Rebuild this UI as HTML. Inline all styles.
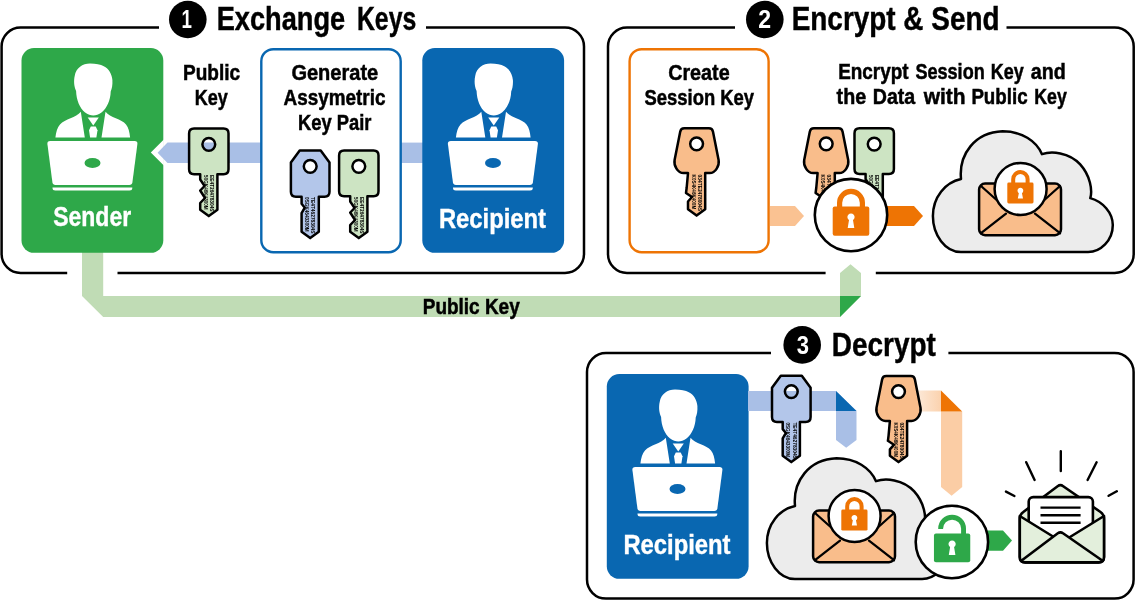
<!DOCTYPE html>
<html lang="en"><head><meta charset="utf-8"><title>Hybrid encryption</title>
<style>html,body{margin:0;padding:0;background:#fff}svg{display:block;will-change:transform}</style></head>
<body>
<svg width="1135" height="600" viewBox="0 0 1135 600" font-family="'Liberation Sans', sans-serif" font-weight="bold">
<rect width="1135" height="600" fill="#fff"/>
<path d="M82 250 L103.2 250 L103.2 295.9 L840 295.9 L840 273 L850.5 264.3 L861 273 L861 295.9 L840 317.1 L103.2 317.1 L82 295.9 Z" fill="#c0dcb5"/>
<path d="M840 295.9 L861 295.9 L840 317.1 Z" fill="#2ea849"/>
<path d="M159 27.5 L20.6 27.5 A19 19 0 0 0 1.6 46.5 L1.6 253.9 A19 19 0 0 0 20.6 272.9 L67.2 272.9 M117.5 272.9 L565 272.9 A19 19 0 0 0 584 253.9 L584 46.5 A19 19 0 0 0 565 27.5 L426 27.5" fill="none" stroke="#000" stroke-width="2.5"/>
<path d="M735 27.5 L627 27.5 A19 19 0 0 0 608 46.5 L608 254 A19 19 0 0 0 627 273 L825.6 273 M875.8 273 L1114.7 273 A19 19 0 0 0 1133.7 254 L1133.7 46.5 A19 19 0 0 0 1114.7 27.5 L1006.5 27.5" fill="none" stroke="#000" stroke-width="2.5"/>
<path d="M771 353.1 L606 353.1 A19 19 0 0 0 587 372.1 L587 579.6 A19 19 0 0 0 606 598.6 L1114.6 598.6 A19 19 0 0 0 1133.6 579.6 L1133.6 372.1 A19 19 0 0 0 1114.6 353.1 L948.4 353.1" fill="none" stroke="#000" stroke-width="2.5"/>
<circle cx="187.8" cy="19.5" r="18.8" fill="#000"/>
<text x="181.38" y="28.20" font-size="25.6" textLength="10.41" lengthAdjust="spacingAndGlyphs" fill="#fff" >1</text>
<text y="30.10" font-size="33.5" fill="#000" stroke="#000" stroke-width="0.45"><tspan x="216.73" textLength="128.41" lengthAdjust="spacingAndGlyphs">Exchange</tspan> <tspan x="356.99" textLength="59.21" lengthAdjust="spacingAndGlyphs">Keys</tspan></text>
<circle cx="764.8" cy="19.5" r="18.8" fill="#000"/>
<text x="758.31" y="28.20" font-size="25.6" textLength="12.83" lengthAdjust="spacingAndGlyphs" fill="#fff" >2</text>
<text x="791.69" y="30.10" font-size="33.5" textLength="207.85" lengthAdjust="spacingAndGlyphs" fill="#000" stroke="#000" stroke-width="0.45">Encrypt &amp; Send</text>
<circle cx="802.2" cy="344.9" r="18.8" fill="#000"/>
<text x="796.86" y="353.60" font-size="25.6" textLength="12.24" lengthAdjust="spacingAndGlyphs" fill="#fff" >3</text>
<text x="831.78" y="355.70" font-size="33.5" textLength="104.04" lengthAdjust="spacingAndGlyphs" fill="#000" stroke="#000" stroke-width="0.45">Decrypt</text>
<rect x="21.5" y="48" width="141.8" height="204.8" rx="12.5" fill="#2ea849"/>
<g transform="translate(-400.5,0)">
<path fill="#fff" d="M476.6 91 C474.2 86 474.3 80 475.2 76 C476.6 68 483 63.6 490.5 63.6 C496.5 63.6 501 64.6 504.3 66.3 C509.3 68.8 512.4 74 512.9 80 C513.2 85 512.4 89 511.2 91.5 C511 100 507.5 108 502.3 112.2 C499.3 114.6 496.3 115.4 493.8 115.4 C491.3 115.4 488.3 114.6 485.3 112.2 C480.3 108 476.8 100 476.6 91 Z"/>
<path fill="#fff" d="M481.3 111.8 L485.3 137.6 L455.9 137.6 C456.6 132 457.8 127.6 460.5 124.6 C463 121.8 467 120 471 118.3 C475 116.6 479 114.6 481.3 111.8 Z"/>
<path fill="#fff" d="M506 111.8 L502 137.6 L530.6 137.6 C530 132 529 127.6 526.5 124.6 C524.3 121.8 520.3 120 516.3 118.3 C512.3 116.6 508.3 114.6 506 111.8 Z"/>
<path fill="#fff" d="M488.2 117.6 L499.3 117.6 L493.75 125.6 Z"/>
<path fill="#fff" d="M491.3 126.6 L496.2 126.6 L498 130.3 L496.9 137.6 L490.6 137.6 L489.5 130.3 Z"/>
<path fill="#fff" d="M450.8 140.9 L535 140.9 Q538.3 140.9 537.9 144.1 L532.9 182.2 Q532.5 184.9 529.8 184.9 L456 184.9 Q453.3 184.9 452.9 182.2 L447.9 144.1 Q447.5 140.9 450.8 140.9 Z"/>
<path fill="#fff" d="M453 187.4 L532.8 187.4 L532.8 188 Q532.8 190.5 530 190.5 L455.8 190.5 Q453 190.5 453 188 Z"/>
<ellipse cx="493" cy="163" rx="8" ry="5" fill="#2ea849"/>
</g>
<text x="53.23" y="226.30" font-size="28" textLength="77.90" lengthAdjust="spacingAndGlyphs" fill="#fff" stroke="#fff" stroke-width="0.4">Sender</text>
<path d="M163.8 139.5 L150.8 152.5 L163.8 165.5 Z" fill="#fff"/>
<path d="M261 142.6 L167.5 142.6 L157.6 152.8 L167.5 163 L261 163 Z" fill="#a9bfe6"/>
<rect x="401" y="142.6" width="22" height="20.4" fill="#a9bfe6"/>
<rect x="261.3" y="49.2" width="139.4" height="203" rx="12" fill="#fff" stroke="#0967b1" stroke-width="2.4"/>
<rect x="422.3" y="48" width="141.8" height="204.8" rx="12.5" fill="#0967b1"/>
<g transform="translate(0,0)">
<path fill="#fff" d="M476.6 91 C474.2 86 474.3 80 475.2 76 C476.6 68 483 63.6 490.5 63.6 C496.5 63.6 501 64.6 504.3 66.3 C509.3 68.8 512.4 74 512.9 80 C513.2 85 512.4 89 511.2 91.5 C511 100 507.5 108 502.3 112.2 C499.3 114.6 496.3 115.4 493.8 115.4 C491.3 115.4 488.3 114.6 485.3 112.2 C480.3 108 476.8 100 476.6 91 Z"/>
<path fill="#fff" d="M481.3 111.8 L485.3 137.6 L455.9 137.6 C456.6 132 457.8 127.6 460.5 124.6 C463 121.8 467 120 471 118.3 C475 116.6 479 114.6 481.3 111.8 Z"/>
<path fill="#fff" d="M506 111.8 L502 137.6 L530.6 137.6 C530 132 529 127.6 526.5 124.6 C524.3 121.8 520.3 120 516.3 118.3 C512.3 116.6 508.3 114.6 506 111.8 Z"/>
<path fill="#fff" d="M488.2 117.6 L499.3 117.6 L493.75 125.6 Z"/>
<path fill="#fff" d="M491.3 126.6 L496.2 126.6 L498 130.3 L496.9 137.6 L490.6 137.6 L489.5 130.3 Z"/>
<path fill="#fff" d="M450.8 140.9 L535 140.9 Q538.3 140.9 537.9 144.1 L532.9 182.2 Q532.5 184.9 529.8 184.9 L456 184.9 Q453.3 184.9 452.9 182.2 L447.9 144.1 Q447.5 140.9 450.8 140.9 Z"/>
<path fill="#fff" d="M453 187.4 L532.8 187.4 L532.8 188 Q532.8 190.5 530 190.5 L455.8 190.5 Q453 190.5 453 188 Z"/>
<ellipse cx="493" cy="163" rx="8" ry="5" fill="#0967b1"/>
</g>
<text x="438.95" y="228.00" font-size="28" textLength="107.04" lengthAdjust="spacingAndGlyphs" fill="#fff" stroke="#fff" stroke-width="0.4">Recipient</text>
<text x="182.96" y="79.50" font-size="22" textLength="57.14" lengthAdjust="spacingAndGlyphs" fill="#000" stroke="#000" stroke-width="0.5">Public</text>
<text x="194.83" y="104.50" font-size="22" textLength="32.99" lengthAdjust="spacingAndGlyphs" fill="#000" stroke="#000" stroke-width="0.5">Key</text>
<g>
<clipPath id="k1"><path d="M194.1 128.5 L223.5 128.5 Q228.5 128.5 228.5 133.5 L228.5 169.2 Q228.5 174.2 223.5 174.2 L217.4 174.2 L217.4 209.8 L208.8 216.1 L200.2 209.8 L200.2 203.0 L205.0 198.0 L200.2 190.5 L204.6 186.0 L200.2 179.5 L200.2 174.2 L194.1 174.2 Q189.1 174.2 189.1 169.2 L189.1 133.5 Q189.1 128.5 194.1 128.5 Z M202.4 144.3 a6.4 6.4 0 1 0 12.8 0 a6.4 6.4 0 1 0 -12.8 0 Z" clip-rule="evenodd"/></clipPath>
<path d="M194.1 128.5 L223.5 128.5 Q228.5 128.5 228.5 133.5 L228.5 169.2 Q228.5 174.2 223.5 174.2 L217.4 174.2 L217.4 209.8 L208.8 216.1 L200.2 209.8 L200.2 203.0 L205.0 198.0 L200.2 190.5 L204.6 186.0 L200.2 179.5 L200.2 174.2 L194.1 174.2 Q189.1 174.2 189.1 169.2 L189.1 133.5 Q189.1 128.5 194.1 128.5 Z M202.4 144.3 a6.4 6.4 0 1 0 12.8 0 a6.4 6.4 0 1 0 -12.8 0 Z" fill="#cde4c3" fill-rule="evenodd"/>
<g clip-path="url(#k1)">
<text transform="translate(210.00,175.10) rotate(90)" font-size="5.6" textLength="36.4" lengthAdjust="spacingAndGlyphs" fill="#000">EE4T26478304S</text>
<text transform="translate(203.80,175.10) rotate(90)" font-size="5.6" textLength="34.6" lengthAdjust="spacingAndGlyphs" fill="#000">50GK46K4300M</text>
</g>
<path d="M194.1 128.5 L223.5 128.5 Q228.5 128.5 228.5 133.5 L228.5 169.2 Q228.5 174.2 223.5 174.2 L217.4 174.2 L217.4 209.8 L208.8 216.1 L200.2 209.8 L200.2 203.0 L205.0 198.0 L200.2 190.5 L204.6 186.0 L200.2 179.5 L200.2 174.2 L194.1 174.2 Q189.1 174.2 189.1 169.2 L189.1 133.5 Q189.1 128.5 194.1 128.5 Z M202.4 144.3 a6.4 6.4 0 1 0 12.8 0 a6.4 6.4 0 1 0 -12.8 0 Z" fill="none" stroke="#000" stroke-width="2.5" stroke-linejoin="round"/>
</g>
<text x="291.40" y="79.50" font-size="22" textLength="86.82" lengthAdjust="spacingAndGlyphs" fill="#000" stroke="#000" stroke-width="0.5">Generate</text>
<text x="283.62" y="104.50" font-size="22" textLength="101.87" lengthAdjust="spacingAndGlyphs" fill="#000" stroke="#000" stroke-width="0.5">Assymetric</text>
<text x="298.11" y="129.50" font-size="22" textLength="73.35" lengthAdjust="spacingAndGlyphs" fill="#000" stroke="#000" stroke-width="0.5">Key Pair</text>
<g>
<clipPath id="k2"><path d="M299.7 150.5 L320.7 150.5 L329.5 162.5 L329.5 191.8 Q329.5 196.8 324.5 196.8 L318.8 196.8 L318.8 231.8 L310.2 238.1 L301.6 231.8 L301.6 213.1 L304.8 207.7 L301.6 203.8 L301.6 196.8 L295.9 196.8 Q290.9 196.8 290.9 191.8 L290.9 162.5 Z M303.8 166.3 a6.4 6.4 0 1 0 12.8 0 a6.4 6.4 0 1 0 -12.8 0 Z" clip-rule="evenodd"/></clipPath>
<path d="M299.7 150.5 L320.7 150.5 L329.5 162.5 L329.5 191.8 Q329.5 196.8 324.5 196.8 L318.8 196.8 L318.8 231.8 L310.2 238.1 L301.6 231.8 L301.6 213.1 L304.8 207.7 L301.6 203.8 L301.6 196.8 L295.9 196.8 Q290.9 196.8 290.9 191.8 L290.9 162.5 Z M303.8 166.3 a6.4 6.4 0 1 0 12.8 0 a6.4 6.4 0 1 0 -12.8 0 Z" fill="#b3c6ea" fill-rule="evenodd"/>
<g clip-path="url(#k2)">
<text transform="translate(311.40,197.10) rotate(90)" font-size="5.6" textLength="36.4" lengthAdjust="spacingAndGlyphs" fill="#000">TE4T46278304S</text>
<text transform="translate(305.20,197.10) rotate(90)" font-size="5.6" textLength="34.6" lengthAdjust="spacingAndGlyphs" fill="#000">0SGK4643300M</text>
</g>
<path d="M299.7 150.5 L320.7 150.5 L329.5 162.5 L329.5 191.8 Q329.5 196.8 324.5 196.8 L318.8 196.8 L318.8 231.8 L310.2 238.1 L301.6 231.8 L301.6 213.1 L304.8 207.7 L301.6 203.8 L301.6 196.8 L295.9 196.8 Q290.9 196.8 290.9 191.8 L290.9 162.5 Z M303.8 166.3 a6.4 6.4 0 1 0 12.8 0 a6.4 6.4 0 1 0 -12.8 0 Z" fill="none" stroke="#000" stroke-width="2.5" stroke-linejoin="round"/>
</g>
<g>
<clipPath id="k3"><path d="M344.1 150.5 L373.5 150.5 Q378.5 150.5 378.5 155.5 L378.5 191.2 Q378.5 196.2 373.5 196.2 L367.4 196.2 L367.4 231.8 L358.8 238.1 L350.2 231.8 L350.2 225.0 L355.0 220.0 L350.2 212.5 L354.6 208.0 L350.2 201.5 L350.2 196.2 L344.1 196.2 Q339.1 196.2 339.1 191.2 L339.1 155.5 Q339.1 150.5 344.1 150.5 Z M352.4 166.3 a6.4 6.4 0 1 0 12.8 0 a6.4 6.4 0 1 0 -12.8 0 Z" clip-rule="evenodd"/></clipPath>
<path d="M344.1 150.5 L373.5 150.5 Q378.5 150.5 378.5 155.5 L378.5 191.2 Q378.5 196.2 373.5 196.2 L367.4 196.2 L367.4 231.8 L358.8 238.1 L350.2 231.8 L350.2 225.0 L355.0 220.0 L350.2 212.5 L354.6 208.0 L350.2 201.5 L350.2 196.2 L344.1 196.2 Q339.1 196.2 339.1 191.2 L339.1 155.5 Q339.1 150.5 344.1 150.5 Z M352.4 166.3 a6.4 6.4 0 1 0 12.8 0 a6.4 6.4 0 1 0 -12.8 0 Z" fill="#cde4c3" fill-rule="evenodd"/>
<g clip-path="url(#k3)">
<text transform="translate(360.00,197.10) rotate(90)" font-size="5.6" textLength="36.4" lengthAdjust="spacingAndGlyphs" fill="#000">EE4T26478304S</text>
<text transform="translate(353.80,197.10) rotate(90)" font-size="5.6" textLength="34.6" lengthAdjust="spacingAndGlyphs" fill="#000">50GK46K4300M</text>
</g>
<path d="M344.1 150.5 L373.5 150.5 Q378.5 150.5 378.5 155.5 L378.5 191.2 Q378.5 196.2 373.5 196.2 L367.4 196.2 L367.4 231.8 L358.8 238.1 L350.2 231.8 L350.2 225.0 L355.0 220.0 L350.2 212.5 L354.6 208.0 L350.2 201.5 L350.2 196.2 L344.1 196.2 Q339.1 196.2 339.1 191.2 L339.1 155.5 Q339.1 150.5 344.1 150.5 Z M352.4 166.3 a6.4 6.4 0 1 0 12.8 0 a6.4 6.4 0 1 0 -12.8 0 Z" fill="none" stroke="#000" stroke-width="2.5" stroke-linejoin="round"/>
</g>
<rect x="629.6" y="49.2" width="139" height="203" rx="12" fill="#fff" stroke="#ee7404" stroke-width="2.4"/>
<text x="668.21" y="79.50" font-size="22" textLength="61.40" lengthAdjust="spacingAndGlyphs" fill="#000" stroke="#000" stroke-width="0.5">Create</text>
<text x="644.54" y="104.50" font-size="22" textLength="109.48" lengthAdjust="spacingAndGlyphs" fill="#000" stroke="#000" stroke-width="0.5">Session Key</text>
<g>
<clipPath id="k4"><path d="M684.3 128.25 L708.9 128.25 Q712.3 128.25 713.0 131.65 L718.6 160 C719.6 165.5 715.6 173.1 709.6 173.1 L705.2 173.1 L705.2 209.3 L696.6 215.6 L688.0 209.3 L688.0 201.5 L692.0 197 L686.0 193 L686.7 187.5 L688.0 173.1 L683.6 173.1 C677.6 173.1 673.6 165.5 674.6 160 L680.2 131.65 Q680.9 128.25 684.3 128.25 Z M690.2 143.8 a6.4 6.4 0 1 0 12.8 0 a6.4 6.4 0 1 0 -12.8 0 Z" clip-rule="evenodd"/></clipPath>
<path d="M684.3 128.25 L708.9 128.25 Q712.3 128.25 713.0 131.65 L718.6 160 C719.6 165.5 715.6 173.1 709.6 173.1 L705.2 173.1 L705.2 209.3 L696.6 215.6 L688.0 209.3 L688.0 201.5 L692.0 197 L686.0 193 L686.7 187.5 L688.0 173.1 L683.6 173.1 C677.6 173.1 673.6 165.5 674.6 160 L680.2 131.65 Q680.9 128.25 684.3 128.25 Z M690.2 143.8 a6.4 6.4 0 1 0 12.8 0 a6.4 6.4 0 1 0 -12.8 0 Z" fill="#f9bd8b" fill-rule="evenodd"/>
<g clip-path="url(#k4)">
<text transform="translate(697.80,174.60) rotate(90)" font-size="5.6" textLength="36.4" lengthAdjust="spacingAndGlyphs" fill="#000">034TE2478004S</text>
<text transform="translate(691.60,174.60) rotate(90)" font-size="5.6" textLength="34.6" lengthAdjust="spacingAndGlyphs" fill="#000">K0S4K46K400M</text>
</g>
<path d="M684.3 128.25 L708.9 128.25 Q712.3 128.25 713.0 131.65 L718.6 160 C719.6 165.5 715.6 173.1 709.6 173.1 L705.2 173.1 L705.2 209.3 L696.6 215.6 L688.0 209.3 L688.0 201.5 L692.0 197 L686.0 193 L686.7 187.5 L688.0 173.1 L683.6 173.1 C677.6 173.1 673.6 165.5 674.6 160 L680.2 131.65 Q680.9 128.25 684.3 128.25 Z M690.2 143.8 a6.4 6.4 0 1 0 12.8 0 a6.4 6.4 0 1 0 -12.8 0 Z" fill="none" stroke="#000" stroke-width="2.5" stroke-linejoin="round"/>
</g>
<path d="M770 206 L795 206 L804 216 L795 226 L770 226 Z" fill="#fac292"/>
<text y="79.00" font-size="22" fill="#000" stroke="#000" stroke-width="0.5"><tspan x="838.17" textLength="70.38" lengthAdjust="spacingAndGlyphs">Encrypt</tspan> <tspan x="915.45" textLength="69.25" lengthAdjust="spacingAndGlyphs">Session</tspan> <tspan x="990.73" textLength="32.89" lengthAdjust="spacingAndGlyphs">Key</tspan> <tspan x="1030.81" textLength="34.99" lengthAdjust="spacingAndGlyphs">and</tspan></text>
<text y="103.80" font-size="22" fill="#000" stroke="#000" stroke-width="0.5"><tspan x="836.60" textLength="29.51" lengthAdjust="spacingAndGlyphs">the</tspan> <tspan x="872.73" textLength="42.50" lengthAdjust="spacingAndGlyphs">Data</tspan> <tspan x="923.70" textLength="41.87" lengthAdjust="spacingAndGlyphs">with</tspan> <tspan x="971.38" textLength="56.21" lengthAdjust="spacingAndGlyphs">Public</tspan> <tspan x="1034.25" textLength="32.47" lengthAdjust="spacingAndGlyphs">Key</tspan></text>
<g>
<clipPath id="k5"><path d="M813.9 128.25 L838.5 128.25 Q841.9 128.25 842.6 131.65 L848.2 160 C849.2 165.5 845.2 173.1 839.2 173.1 L834.8 173.1 L834.8 209.3 L826.2 215.6 L817.6 209.3 L817.6 201.5 L821.6 197 L815.6 193 L816.3 187.5 L817.6 173.1 L813.2 173.1 C807.2 173.1 803.2 165.5 804.2 160 L809.8 131.65 Q810.5 128.25 813.9 128.25 Z M819.8 143.8 a6.4 6.4 0 1 0 12.8 0 a6.4 6.4 0 1 0 -12.8 0 Z" clip-rule="evenodd"/></clipPath>
<path d="M813.9 128.25 L838.5 128.25 Q841.9 128.25 842.6 131.65 L848.2 160 C849.2 165.5 845.2 173.1 839.2 173.1 L834.8 173.1 L834.8 209.3 L826.2 215.6 L817.6 209.3 L817.6 201.5 L821.6 197 L815.6 193 L816.3 187.5 L817.6 173.1 L813.2 173.1 C807.2 173.1 803.2 165.5 804.2 160 L809.8 131.65 Q810.5 128.25 813.9 128.25 Z M819.8 143.8 a6.4 6.4 0 1 0 12.8 0 a6.4 6.4 0 1 0 -12.8 0 Z" fill="#f9bd8b" fill-rule="evenodd"/>
<g clip-path="url(#k5)">
<text transform="translate(827.40,174.60) rotate(90)" font-size="5.6" textLength="36.4" lengthAdjust="spacingAndGlyphs" fill="#000">034TE2478004S</text>
<text transform="translate(821.20,174.60) rotate(90)" font-size="5.6" textLength="34.6" lengthAdjust="spacingAndGlyphs" fill="#000">K0S4K46K400M</text>
</g>
<path d="M813.9 128.25 L838.5 128.25 Q841.9 128.25 842.6 131.65 L848.2 160 C849.2 165.5 845.2 173.1 839.2 173.1 L834.8 173.1 L834.8 209.3 L826.2 215.6 L817.6 209.3 L817.6 201.5 L821.6 197 L815.6 193 L816.3 187.5 L817.6 173.1 L813.2 173.1 C807.2 173.1 803.2 165.5 804.2 160 L809.8 131.65 Q810.5 128.25 813.9 128.25 Z M819.8 143.8 a6.4 6.4 0 1 0 12.8 0 a6.4 6.4 0 1 0 -12.8 0 Z" fill="none" stroke="#000" stroke-width="2.5" stroke-linejoin="round"/>
</g>
<g>
<clipPath id="k6"><path d="M859.5 128.3 L888.9 128.3 Q893.9 128.3 893.9 133.3 L893.9 169.0 Q893.9 174.0 888.9 174.0 L882.8 174.0 L882.8 209.6 L874.2 215.9 L865.6 209.6 L865.6 202.8 L870.4 197.8 L865.6 190.3 L870.0 185.8 L865.6 179.3 L865.6 174.0 L859.5 174.0 Q854.5 174.0 854.5 169.0 L854.5 133.3 Q854.5 128.3 859.5 128.3 Z M867.8 144.1 a6.4 6.4 0 1 0 12.8 0 a6.4 6.4 0 1 0 -12.8 0 Z" clip-rule="evenodd"/></clipPath>
<path d="M859.5 128.3 L888.9 128.3 Q893.9 128.3 893.9 133.3 L893.9 169.0 Q893.9 174.0 888.9 174.0 L882.8 174.0 L882.8 209.6 L874.2 215.9 L865.6 209.6 L865.6 202.8 L870.4 197.8 L865.6 190.3 L870.0 185.8 L865.6 179.3 L865.6 174.0 L859.5 174.0 Q854.5 174.0 854.5 169.0 L854.5 133.3 Q854.5 128.3 859.5 128.3 Z M867.8 144.1 a6.4 6.4 0 1 0 12.8 0 a6.4 6.4 0 1 0 -12.8 0 Z" fill="#cde4c3" fill-rule="evenodd"/>
<g clip-path="url(#k6)">
<text transform="translate(875.40,174.90) rotate(90)" font-size="5.6" textLength="36.4" lengthAdjust="spacingAndGlyphs" fill="#000">EE4T26478304S</text>
<text transform="translate(869.20,174.90) rotate(90)" font-size="5.6" textLength="34.6" lengthAdjust="spacingAndGlyphs" fill="#000">50GK46K4300M</text>
</g>
<path d="M859.5 128.3 L888.9 128.3 Q893.9 128.3 893.9 133.3 L893.9 169.0 Q893.9 174.0 888.9 174.0 L882.8 174.0 L882.8 209.6 L874.2 215.9 L865.6 209.6 L865.6 202.8 L870.4 197.8 L865.6 190.3 L870.0 185.8 L865.6 179.3 L865.6 174.0 L859.5 174.0 Q854.5 174.0 854.5 169.0 L854.5 133.3 Q854.5 128.3 859.5 128.3 Z M867.8 144.1 a6.4 6.4 0 1 0 12.8 0 a6.4 6.4 0 1 0 -12.8 0 Z" fill="none" stroke="#000" stroke-width="2.5" stroke-linejoin="round"/>
</g>
<path d="M880 206 L914 206 L923 216 L914 226 L880 226 Z" fill="#ee7404"/>
<circle cx="851" cy="215.1" r="36.2" fill="#fff" stroke="#000" stroke-width="2.6"/>
<rect x="832.70" y="206.50" width="36.60" height="29.20" rx="2.01" fill="#ee7404"/>
<path d="M839.60 207.50 L839.60 202.80 A11.40 11.40 0 0 1 862.40 202.80 L862.40 207.50" fill="none" stroke="#ee7404" stroke-width="5.2"/>
<path d="M849.02 220.01 A3.60 3.60 0 1 1 852.98 220.01 L854.30 227.90 L847.70 227.90 Z" fill="#fff"/>
<g transform="translate(0,0)">
<path d="M961 252.1 C945.2 252.1 932.9 235.2 932.9 216.1 C932.9 197 945.2 182.4 961 179 C958.7 154.6 974.5 132.3 1002.6 131.3 C1021.7 131.3 1036.3 141 1042 154.2 C1051 150.9 1069 152 1080.2 164.4 C1090.3 175.6 1092.6 190.2 1090.3 198.1 C1102.7 201.5 1112.8 212.7 1112.8 225.1 C1112.8 240.8 1100.4 252.1 1088.1 252.1 Z" fill="#ececec" stroke="#000" stroke-width="2.5" stroke-linejoin="round"/>
<rect x="979.1" y="183.6" width="81.9" height="51.6" rx="6" fill="#f9bd8b" stroke="#000" stroke-width="2.5"/>
<path d="M981 186 L1000 203 M1060 186 L1041 203 M981 233.2 L1006 213.6 M1060 233.2 L1035 213.6" fill="none" stroke="#000" stroke-width="2.3" stroke-linecap="round"/>
<circle cx="1020.6" cy="189" r="26" fill="#fff" stroke="#000" stroke-width="2.5"/>
</g>
<rect x="1007.30" y="182.50" width="26.20" height="21.00" rx="1.44" fill="#ee7404"/>
<path d="M1013.20 183.50 L1013.20 179.20 A7.20 7.20 0 0 1 1027.60 179.20 L1027.60 183.50" fill="none" stroke="#ee7404" stroke-width="4"/>
<path d="M1018.84 193.14 A2.90 2.90 0 1 1 1021.96 193.14 L1023.00 198.40 L1017.80 198.40 Z" fill="#fff"/>
<rect x="606.8" y="374" width="141.8" height="204.8" rx="12.5" fill="#0967b1"/>
<g transform="translate(184.5,326)">
<path fill="#fff" d="M476.6 91 C474.2 86 474.3 80 475.2 76 C476.6 68 483 63.6 490.5 63.6 C496.5 63.6 501 64.6 504.3 66.3 C509.3 68.8 512.4 74 512.9 80 C513.2 85 512.4 89 511.2 91.5 C511 100 507.5 108 502.3 112.2 C499.3 114.6 496.3 115.4 493.8 115.4 C491.3 115.4 488.3 114.6 485.3 112.2 C480.3 108 476.8 100 476.6 91 Z"/>
<path fill="#fff" d="M481.3 111.8 L485.3 137.6 L455.9 137.6 C456.6 132 457.8 127.6 460.5 124.6 C463 121.8 467 120 471 118.3 C475 116.6 479 114.6 481.3 111.8 Z"/>
<path fill="#fff" d="M506 111.8 L502 137.6 L530.6 137.6 C530 132 529 127.6 526.5 124.6 C524.3 121.8 520.3 120 516.3 118.3 C512.3 116.6 508.3 114.6 506 111.8 Z"/>
<path fill="#fff" d="M488.2 117.6 L499.3 117.6 L493.75 125.6 Z"/>
<path fill="#fff" d="M491.3 126.6 L496.2 126.6 L498 130.3 L496.9 137.6 L490.6 137.6 L489.5 130.3 Z"/>
<path fill="#fff" d="M450.8 140.9 L535 140.9 Q538.3 140.9 537.9 144.1 L532.9 182.2 Q532.5 184.9 529.8 184.9 L456 184.9 Q453.3 184.9 452.9 182.2 L447.9 144.1 Q447.5 140.9 450.8 140.9 Z"/>
<path fill="#fff" d="M453 187.4 L532.8 187.4 L532.8 188 Q532.8 190.5 530 190.5 L455.8 190.5 Q453 190.5 453 188 Z"/>
<ellipse cx="493" cy="163" rx="8" ry="5" fill="#0967b1"/>
</g>
<text x="623.45" y="554.00" font-size="28" textLength="107.04" lengthAdjust="spacingAndGlyphs" fill="#fff" stroke="#fff" stroke-width="0.4">Recipient</text>
<path d="M748 391 L836 391 L856.5 411 L856.5 440 L846.2 447.8 L836 440 L836 411 L748 411 Z" fill="#a9bfe6"/>
<path d="M836 391 L856.5 411 L836 411 Z" fill="#0967b1"/>
<g>
<clipPath id="k7"><path d="M780.8 375.8 L801.8 375.8 L810.6 387.8 L810.6 417.1 Q810.6 422.1 805.6 422.1 L799.9 422.1 L799.9 455.8 L791.3 462.1 L782.7 455.8 L782.7 438.4 L785.9 433.0 L782.7 429.1 L782.7 422.1 L777.0 422.1 Q772.0 422.1 772.0 417.1 L772.0 387.8 Z M784.9 391.6 a6.4 6.4 0 1 0 12.8 0 a6.4 6.4 0 1 0 -12.8 0 Z" clip-rule="evenodd"/></clipPath>
<path d="M780.8 375.8 L801.8 375.8 L810.6 387.8 L810.6 417.1 Q810.6 422.1 805.6 422.1 L799.9 422.1 L799.9 455.8 L791.3 462.1 L782.7 455.8 L782.7 438.4 L785.9 433.0 L782.7 429.1 L782.7 422.1 L777.0 422.1 Q772.0 422.1 772.0 417.1 L772.0 387.8 Z M784.9 391.6 a6.4 6.4 0 1 0 12.8 0 a6.4 6.4 0 1 0 -12.8 0 Z" fill="#b3c6ea" fill-rule="evenodd"/>
<g clip-path="url(#k7)">
<text transform="translate(792.50,422.40) rotate(90)" font-size="5.6" textLength="36.4" lengthAdjust="spacingAndGlyphs" fill="#000">TE4T46278304S</text>
<text transform="translate(786.30,422.40) rotate(90)" font-size="5.6" textLength="34.6" lengthAdjust="spacingAndGlyphs" fill="#000">0SGK4643300M</text>
</g>
<path d="M780.8 375.8 L801.8 375.8 L810.6 387.8 L810.6 417.1 Q810.6 422.1 805.6 422.1 L799.9 422.1 L799.9 455.8 L791.3 462.1 L782.7 455.8 L782.7 438.4 L785.9 433.0 L782.7 429.1 L782.7 422.1 L777.0 422.1 Q772.0 422.1 772.0 417.1 L772.0 387.8 Z M784.9 391.6 a6.4 6.4 0 1 0 12.8 0 a6.4 6.4 0 1 0 -12.8 0 Z" fill="none" stroke="#000" stroke-width="2.5" stroke-linejoin="round"/>
</g>
<defs><linearGradient id="og" x1="0" x2="1" y1="0" y2="0"><stop offset="0" stop-color="#fdebdc"/><stop offset="1" stop-color="#fbd2ae"/></linearGradient></defs>
<path d="M915 390.5 L941 390.5 L941 411.5 L915 411.5 Z" fill="url(#og)"/>
<path d="M941 411.5 L962.2 411.5 L962.2 487 L951.6 495.8 L941 487 Z" fill="#fbcda5"/>
<path d="M941 390.5 L962.2 411.5 L941 411.5 Z" fill="#ee7404"/>
<g>
<clipPath id="k8"><path d="M886.2 376.05 L910.8 376.05 Q914.2 376.05 914.9 379.45 L920.5 407.8 C921.5 413.3 917.5 420.9 911.5 420.9 L907.1 420.9 L907.1 455.8 L898.5 462.1 L889.9 455.8 L889.9 449.3 L893.9 444.8 L887.9 440.8 L888.6 435.3 L889.9 420.9 L885.5 420.9 C879.5 420.9 875.5 413.3 876.5 407.8 L882.1 379.45 Q882.8 376.05 886.2 376.05 Z M892.1 391.6 a6.4 6.4 0 1 0 12.8 0 a6.4 6.4 0 1 0 -12.8 0 Z" clip-rule="evenodd"/></clipPath>
<path d="M886.2 376.05 L910.8 376.05 Q914.2 376.05 914.9 379.45 L920.5 407.8 C921.5 413.3 917.5 420.9 911.5 420.9 L907.1 420.9 L907.1 455.8 L898.5 462.1 L889.9 455.8 L889.9 449.3 L893.9 444.8 L887.9 440.8 L888.6 435.3 L889.9 420.9 L885.5 420.9 C879.5 420.9 875.5 413.3 876.5 407.8 L882.1 379.45 Q882.8 376.05 886.2 376.05 Z M892.1 391.6 a6.4 6.4 0 1 0 12.8 0 a6.4 6.4 0 1 0 -12.8 0 Z" fill="#f9bd8b" fill-rule="evenodd"/>
<g clip-path="url(#k8)">
<text transform="translate(899.70,422.40) rotate(90)" font-size="5.6" textLength="36.4" lengthAdjust="spacingAndGlyphs" fill="#000">034TE2478004S</text>
<text transform="translate(893.50,422.40) rotate(90)" font-size="5.6" textLength="34.6" lengthAdjust="spacingAndGlyphs" fill="#000">K0S4K46K400M</text>
</g>
<path d="M886.2 376.05 L910.8 376.05 Q914.2 376.05 914.9 379.45 L920.5 407.8 C921.5 413.3 917.5 420.9 911.5 420.9 L907.1 420.9 L907.1 455.8 L898.5 462.1 L889.9 455.8 L889.9 449.3 L893.9 444.8 L887.9 440.8 L888.6 435.3 L889.9 420.9 L885.5 420.9 C879.5 420.9 875.5 413.3 876.5 407.8 L882.1 379.45 Q882.8 376.05 886.2 376.05 Z M892.1 391.6 a6.4 6.4 0 1 0 12.8 0 a6.4 6.4 0 1 0 -12.8 0 Z" fill="none" stroke="#000" stroke-width="2.5" stroke-linejoin="round"/>
</g>
<g transform="translate(-166,327)">
<path d="M961 252.1 C945.2 252.1 932.9 235.2 932.9 216.1 C932.9 197 945.2 182.4 961 179 C958.7 154.6 974.5 132.3 1002.6 131.3 C1021.7 131.3 1036.3 141 1042 154.2 C1051 150.9 1069 152 1080.2 164.4 C1090.3 175.6 1092.6 190.2 1090.3 198.1 C1102.7 201.5 1112.8 212.7 1112.8 225.1 C1112.8 240.8 1100.4 252.1 1088.1 252.1 Z" fill="#ececec" stroke="#000" stroke-width="2.5" stroke-linejoin="round"/>
<rect x="979.1" y="183.6" width="81.9" height="51.6" rx="6" fill="#f9bd8b" stroke="#000" stroke-width="2.5"/>
<path d="M981 186 L1000 203 M1060 186 L1041 203 M981 233.2 L1006 213.6 M1060 233.2 L1035 213.6" fill="none" stroke="#000" stroke-width="2.3" stroke-linecap="round"/>
<circle cx="1020.6" cy="189" r="26" fill="#fff" stroke="#000" stroke-width="2.5"/>
</g>
<rect x="841.30" y="509.60" width="26.20" height="21.00" rx="1.44" fill="#ee7404"/>
<path d="M847.20 510.60 L847.20 506.30 A7.20 7.20 0 0 1 861.60 506.30 L861.60 510.60" fill="none" stroke="#ee7404" stroke-width="4"/>
<path d="M852.84 520.24 A2.90 2.90 0 1 1 855.96 520.24 L857.00 525.50 L851.80 525.50 Z" fill="#fff"/>
<path d="M985 530.5 L1003 530.5 L1012 540.6 L1003 550.7 L985 550.7 Z" fill="#2ea849"/>
<circle cx="951.9" cy="542" r="36.2" fill="#fff" stroke="#000" stroke-width="2.6"/>
<rect x="933.95" y="533.50" width="36.30" height="28.80" rx="2.00" fill="#2ea849"/>
<path d="M940.65 529.00 L940.65 528.60 A11.45 11.45 0 0 1 963.55 528.60 L963.55 534.50" fill="none" stroke="#2ea849" stroke-width="4.9"/>
<path d="M950.12 547.01 A3.60 3.60 0 1 1 954.08 547.01 L955.40 554.90 L948.80 554.90 Z" fill="#fff"/>
<path d="M1019.8 519 Q1019.8 514.5 1023.3 512 L1057.6 486.2 Q1060.4 484.2 1063.2 486.2 L1100.5 512 Q1104 514.5 1104 519 L1104 557 Q1104 562.4 1098.6 562.4 L1025.2 562.4 Q1019.8 562.4 1019.8 557 Z" fill="#e3efdc" stroke="#000" stroke-width="2.6" stroke-linejoin="round"/>
<rect x="1028.7" y="497.1" width="64.2" height="42" rx="4.5" fill="#fff" stroke="#000" stroke-width="2.6"/>
<path d="M1040.5 507.6 L1080.6 507.6 M1040.5 515.3 L1080.6 515.3 M1040.5 522.8 L1080.6 522.8" stroke="#000" stroke-width="2.4" fill="none"/>
<path d="M1019.8 516 L1061.9 542 L1104 516 L1104 557 Q1104 562.4 1098.6 562.4 L1025.2 562.4 Q1019.8 562.4 1019.8 557 Z" fill="#e3efdc" stroke="#000" stroke-width="2.6" stroke-linejoin="round"/>
<path d="M1022.3 560 L1057.8 533.3 Q1060.4 531.3 1063 533.3 L1101.5 560" fill="#e3efdc" stroke="#000" stroke-width="2.6" stroke-linejoin="round" stroke-linecap="round"/>
<path d="M1060.8 451.2 L1060.8 471 M1026.2 462.2 L1034.6 480 M1096.6 462.2 L1087.6 480 M1006 491.6 L1014.4 496 M1116.8 491.3 L1108.6 495.8" stroke="#000" stroke-width="2.4" stroke-linecap="round" fill="none"/>
<text x="422.77" y="314.40" font-size="22" textLength="96.95" lengthAdjust="spacingAndGlyphs" fill="#000" stroke="#000" stroke-width="0.5">Public Key</text>
</svg>
</body></html>
